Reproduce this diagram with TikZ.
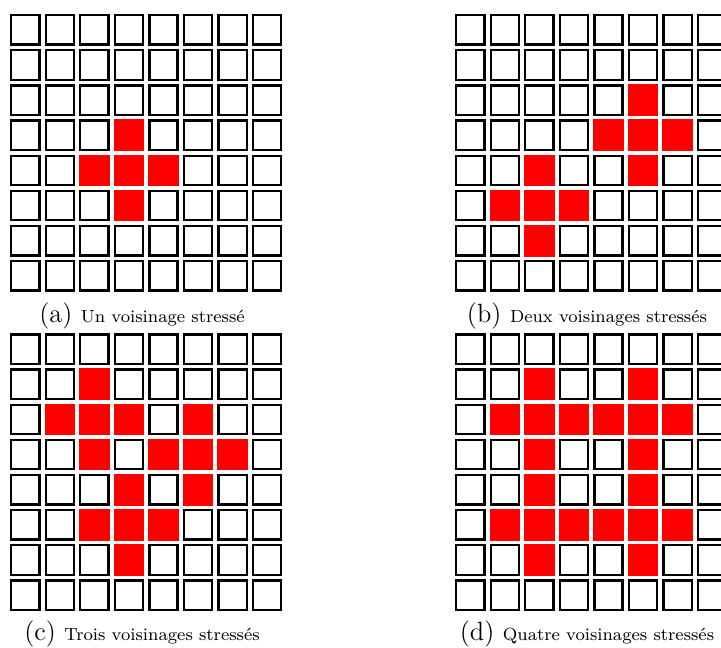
\documentclass[tikz,border=0pt]{standalone}
\usepackage{fontspec}
\makeatletter
\newcommand\cellgrid[4]{%
  \foreach \r in {1,...,8}{%
    \foreach \c in {1,...,8}{%
      \edef\tmp{\noexpand\in@{,\r-\c,}{,#4,}}\tmp
      \ifin@
        \node[hotcell] (#1-\r-\c) at ({#2+(\c-1)*34.57},{#3+(\r-1)*35.14}) {};
      \else
        \node[cell] (#1-\r-\c) at ({#2+(\c-1)*34.57},{#3+(\r-1)*35.14}) {};
      \fi
    }%
  }%
}
\makeatother
\tikzset{
  cell/.style={draw=black, line width=1.05pt, fill=white, inner sep=0pt,
    minimum width=12.83pt, minimum height=13.37pt},
  hotcell/.style={fill=red, draw=none, inner sep=0pt,
    minimum width=13.88pt, minimum height=14.42pt},
  caption/.style={anchor=base, inner sep=0pt}
}
\begin{document}
\begin{tikzpicture}[x=0.455pt, y=-0.455pt]
  \useasboundingbox (0,0) rectangle (721,647);
  \clip (0,0) rectangle (721,647);
  \cellgrid{a}{25.25}{29.85}{4-4,5-3,5-4,5-5,6-4}
  \cellgrid{b}{470.25}{29.85}{3-6,4-5,4-6,4-7,5-6,5-3,6-2,6-3,6-4,7-3}
  \cellgrid{c}{25.25}{349.15}{2-3,3-2,3-3,3-4,3-6,4-3,4-5,4-6,4-7,5-4,5-6,6-3,6-4,6-5,7-4}
  \cellgrid{d}{470.25}{349.15}{2-3,2-6,3-2,3-3,3-4,3-5,3-6,3-7,4-3,4-6,5-3,5-6,6-2,6-3,6-4,6-5,6-6,6-7,7-3,7-6}
  \node[caption] (capa) at (142,322) {\large(a) \footnotesize Un voisinage stressé};
  \node[caption] (capb) at (587,322) {\large(b) \footnotesize Deux voisinages stressés};
  \node[caption] (capc) at (142,640) {\large(c) \footnotesize Trois voisinages stressés};
  \node[caption] (capd) at (587,640) {\large(d) \footnotesize Quatre voisinages stressés};
\end{tikzpicture}
\end{document}
